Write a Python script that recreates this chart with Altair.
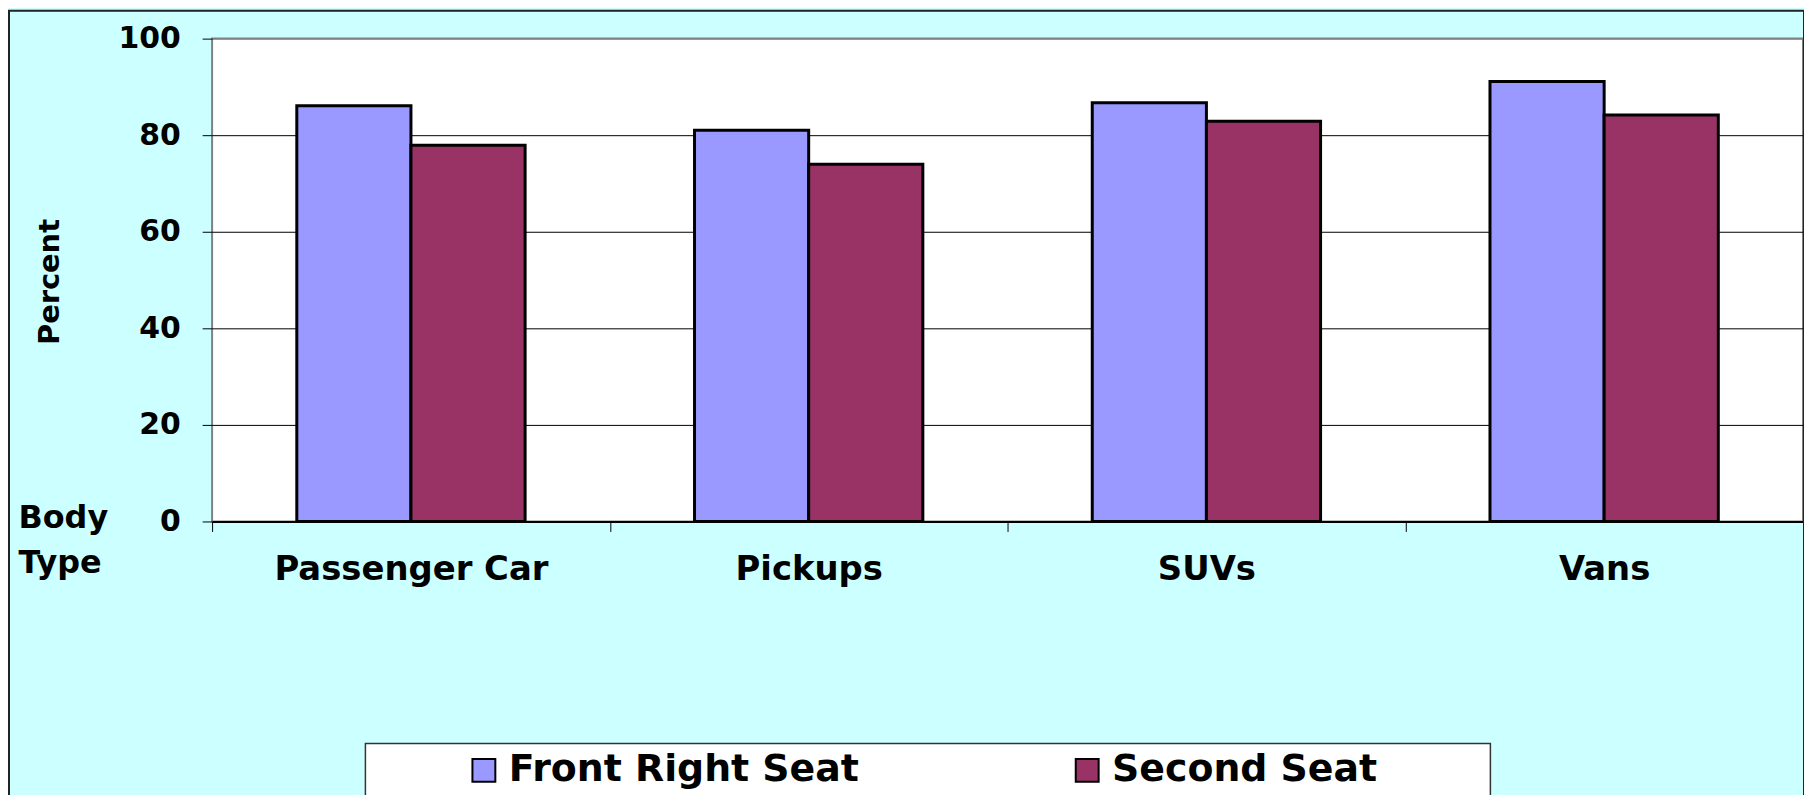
import altair as alt
import pandas as pd

body_types = ["Passenger Car", "Pickups", "SUVs", "Vans"]
seats = ["Front Right Seat", "Second Seat"]
front_right = [86.1, 81.0, 86.7, 91.1]
second_seat = [77.9, 74.0, 82.9, 84.2]
y_ticks = [0, 20, 40, 60, 80, 100]
colors = ["#9999FF", "#993366"]

rows = []
for i, b in enumerate(body_types):
    rows.append({"Body": b, "Seat": seats[0], "Percent": front_right[i]})
    rows.append({"Body": b, "Seat": seats[1], "Percent": second_seat[i]})
df = pd.DataFrame(rows)

FONT = "DejaVu Sans"
W, H = 1598, 485

bars = alt.Chart(df).mark_bar(stroke="black", strokeWidth=3, opacity=1).encode(
    x=alt.X(
        "Body:N",
        sort=body_types,
        scale=alt.Scale(paddingInner=0, paddingOuter=0),
        axis=alt.Axis(
            title=["Body", "Type"],
            labelAngle=0,
            tickBand="extent",
            grid=False,
            domain=True,
            domainColor="black",
            domainWidth=2,
            ticks=True,
            tickColor="black",
            tickSize=10,
            tickWidth=1,
            labelFont=FONT,
            labelFontSize=34,
            labelFontWeight="bold",
            labelColor="black",
            labelPadding=21,
            labelLimit=500,
            titleFont=FONT,
            titleFontSize=32,
            titleFontWeight="bold",
            titleColor="black",
            titleX=-195,
            titleY=-19,
            titleAlign="left",
            titleBaseline="top",
            titleLineHeight=45,
        ),
    ),
    xOffset=alt.XOffset("Seat:N", sort=seats, scale=alt.Scale(paddingInner=0, paddingOuter=0.742)),
    y=alt.Y(
        "Percent:Q",
        scale=alt.Scale(domain=[0, 100], nice=False),
        axis=alt.Axis(
            values=y_ticks,
            title="Percent",
            domain=False,
            grid=True,
            gridColor=alt.condition("datum.value === 100", alt.value("#808080"), alt.value("black")),
            gridWidth=1,
            ticks=True,
            tickColor="black",
            tickSize=10,
            labelFont=FONT,
            labelFontSize=30,
            labelFontWeight="bold",
            labelColor="black",
            labelPadding=22,
            titleFont=FONT,
            titleFontSize=29,
            titleFontWeight="bold",
            titleColor="black",
            titleX=-163,
            titleY=244,
            titleAngle=270,
            titleAlign="center",
            titleBaseline="middle",
        ),
    ),
    color=alt.Color(
        "Seat:N",
        sort=seats,
        scale=alt.Scale(domain=seats, range=colors),
        legend=alt.Legend(
            title=None,
            orient="none",
            legendX=254,
            legendY=716,
            direction="horizontal",
            symbolType="square",
            symbolSize=529,
            symbolStrokeColor="black",
            symbolStrokeWidth=2,
            symbolOpacity=1,
            labelFont=FONT,
            labelFontSize=38,
            labelFontWeight="bold",
            labelColor="black",
            labelOffset=6,
            labelLimit=600,
            columnPadding=210,
            padding=0,
        ),
    ),
)

one = alt.Data(values=[{"k": 0}])

outer_border = alt.Chart(one).mark_rect(fillOpacity=0, stroke="#222222", strokeWidth=2).encode(
    x=alt.value(-204), x2=alt.value(W + 1), y=alt.value(-28), y2=alt.value(900)
)

legend_box = alt.Chart(one).mark_rect(fill="white", stroke="#333333", strokeWidth=1.5).encode(
    x=alt.value(154), x2=alt.value(1284), y=alt.value(708), y2=alt.value(900)
)

chart = (
    alt.layer(outer_border, legend_box, bars)
    .properties(
        width=W,
        height=H,
        autosize=alt.AutoSizeParams(type="none"),
        padding={"left": 205, "top": 29, "right": 1, "bottom": 273},
    )
    .configure(background="#CCFFFF", font=FONT)
    .configure_view(fill="white", stroke="#808080", strokeWidth=2)
)

chart.save("out.html", embed_options={"renderer": "svg", "actions": False})
